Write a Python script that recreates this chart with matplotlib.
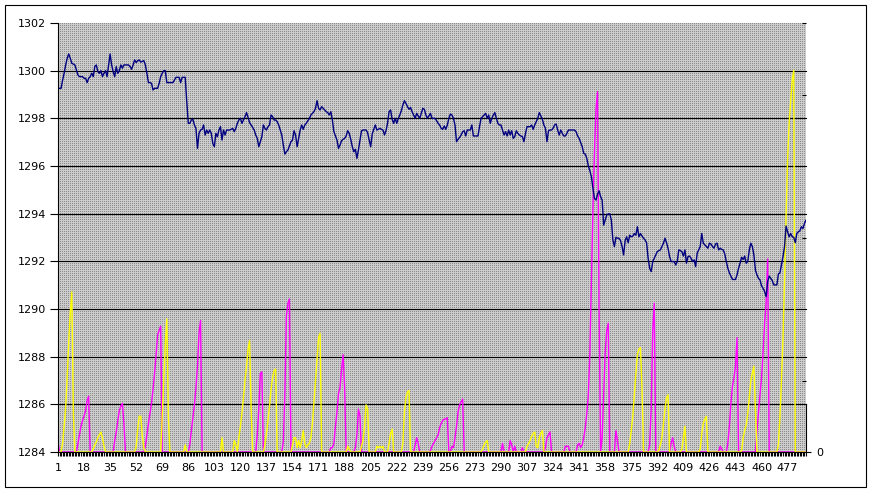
#!/usr/bin/env python3
import numpy as np
import matplotlib
matplotlib.use('Agg')
import matplotlib.pyplot as plt
from matplotlib.ticker import FixedLocator, FixedFormatter, NullFormatter
from matplotlib.patches import Rectangle

N_POINTS = 489
categories = list(range(1, N_POINTS + 1))
x_tick_labels = list(range(1, 478, 17))
left_ticks = list(range(1284, 1303, 2))
grid_levels = list(range(1286, 1301, 2))
right_ticks = [0.5, 1.5, 2.5, 3.0]

# serie principal (eixo esquerdo)
price = [
    1299.26, 1299.26, 1299.26, 1299.60, 1299.89, 1300.24, 1300.52, 1300.70, 1300.52, 1300.31,
    1300.28, 1300.24, 1300.03, 1299.82, 1299.75, 1299.75, 1299.75, 1299.68, 1299.68, 1299.50,
    1299.68, 1299.75, 1299.89, 1299.75, 1300.17, 1300.24, 1299.96, 1299.89, 1300.00, 1299.75,
    1299.89, 1300.00, 1299.75, 1300.24, 1300.70, 1300.24, 1299.96, 1299.75, 1300.17, 1299.89,
    1300.00, 1300.24, 1300.10, 1300.24, 1300.24, 1300.24, 1300.24, 1300.17, 1300.06, 1300.24,
    1300.45, 1300.34, 1300.42, 1300.45, 1300.36, 1300.39, 1300.42, 1300.24, 1299.89, 1299.50,
    1299.50, 1299.47, 1299.19, 1299.26, 1299.26, 1299.26, 1299.47, 1299.75, 1299.89, 1300.00,
    1300.00, 1299.50, 1299.50, 1299.50, 1299.50, 1299.50, 1299.61, 1299.72, 1299.72, 1299.72,
    1299.50, 1299.72, 1299.72, 1299.72, 1298.70, 1297.79, 1297.79, 1297.93, 1297.96, 1297.72,
    1297.58, 1296.74, 1297.37, 1297.51, 1297.54, 1297.72, 1297.30, 1297.51, 1297.37, 1297.51,
    1297.37, 1296.95, 1296.81, 1297.37, 1297.23, 1297.51, 1297.65, 1297.09, 1297.51, 1297.30,
    1297.51, 1297.51, 1297.51, 1297.54, 1297.58, 1297.44, 1297.58, 1297.79, 1297.93, 1298.00,
    1297.79, 1297.93, 1298.07, 1298.24, 1298.04, 1297.82, 1297.72, 1297.62, 1297.51, 1297.30,
    1297.16, 1296.81, 1297.02, 1297.23, 1297.72, 1297.58, 1297.51, 1297.65, 1297.72, 1298.14,
    1298.07, 1297.93, 1297.93, 1297.86, 1297.72, 1297.51, 1297.30, 1296.88, 1296.50, 1296.60,
    1296.67, 1296.84, 1297.02, 1297.09, 1297.48, 1297.30, 1296.81, 1297.16, 1297.51, 1297.72,
    1297.54, 1297.72, 1297.79, 1297.90, 1297.99, 1298.14, 1298.21, 1298.28, 1298.42, 1298.74,
    1298.42, 1298.35, 1298.49, 1298.42, 1298.35, 1298.28, 1298.24, 1298.14, 1298.28, 1297.93,
    1297.44, 1297.26, 1297.09, 1296.74, 1296.88, 1297.06, 1297.12, 1297.16, 1297.26, 1297.48,
    1297.37, 1297.12, 1296.81, 1296.60, 1296.70, 1296.32, 1296.67, 1297.09, 1297.48, 1297.51,
    1297.51, 1297.51, 1297.40, 1297.09, 1296.81, 1297.34, 1297.54, 1297.72, 1297.51, 1297.54,
    1297.58, 1297.54, 1297.51, 1297.30, 1297.48, 1297.79, 1298.28, 1298.35, 1297.96, 1297.79,
    1298.00, 1297.79, 1297.99, 1298.14, 1298.32, 1298.56, 1298.74, 1298.63, 1298.49, 1298.38,
    1298.46, 1298.28, 1298.14, 1298.00, 1298.21, 1298.10, 1298.00, 1298.21, 1298.42, 1298.38,
    1298.14, 1298.00, 1298.10, 1298.21, 1298.00, 1298.00, 1298.00, 1297.90, 1297.79, 1297.72,
    1297.58, 1297.54, 1297.68, 1297.54, 1297.72, 1298.00, 1298.18, 1298.14, 1298.00, 1297.72,
    1297.02, 1297.12, 1297.20, 1297.30, 1297.44, 1297.48, 1297.26, 1297.51, 1297.51, 1297.51,
    1297.72, 1297.26, 1297.26, 1297.26, 1297.26, 1297.65, 1298.00, 1298.07, 1298.14, 1298.21,
    1298.00, 1298.14, 1297.79, 1298.00, 1298.14, 1298.24, 1298.00, 1297.79, 1297.72, 1297.72,
    1297.51, 1297.30, 1297.44, 1297.26, 1297.51, 1297.30, 1297.48, 1297.16, 1297.23, 1297.48,
    1297.37, 1297.30, 1297.26, 1297.23, 1297.02, 1297.37, 1297.65, 1297.65, 1297.65, 1297.72,
    1297.54, 1297.72, 1297.86, 1298.00, 1298.24, 1298.10, 1297.96, 1297.72, 1297.58, 1297.02,
    1297.48, 1297.51, 1297.51, 1297.58, 1297.72, 1297.76, 1297.51, 1297.30, 1297.51, 1297.37,
    1297.26, 1297.26, 1297.37, 1297.51, 1297.51, 1297.51, 1297.51, 1297.51, 1297.44, 1297.26,
    1297.16, 1296.98, 1296.81, 1296.53, 1296.50, 1296.32, 1296.00, 1295.80, 1295.55, 1295.06,
    1294.64, 1294.57, 1294.82, 1294.96, 1294.71, 1294.57, 1293.52, 1293.73, 1293.94, 1293.99,
    1293.99, 1293.73, 1292.90, 1292.62, 1293.01, 1292.97, 1292.97, 1292.87, 1292.62, 1292.27,
    1292.87, 1293.03, 1292.78, 1293.10, 1293.03, 1293.06, 1293.17, 1293.10, 1293.45, 1293.03,
    1293.17, 1293.06, 1292.97, 1292.90, 1292.78, 1292.13, 1291.71, 1291.57, 1291.99, 1292.13,
    1292.27, 1292.41, 1292.45, 1292.48, 1292.62, 1292.76, 1292.97, 1292.78, 1292.55, 1292.20,
    1291.99, 1291.99, 1291.99, 1291.85, 1291.99, 1292.48, 1292.45, 1292.41, 1292.22, 1292.48,
    1291.92, 1292.20, 1292.22, 1292.13, 1291.99, 1292.06, 1291.78, 1292.34, 1292.48, 1292.62,
    1293.17, 1292.76, 1292.69, 1292.62, 1292.55, 1292.76, 1292.73, 1292.62, 1292.55, 1292.73,
    1292.76, 1292.48, 1292.55, 1292.50, 1292.48, 1292.31, 1291.99, 1291.71, 1291.52, 1291.38,
    1291.24, 1291.24, 1291.24, 1291.43, 1291.71, 1291.92, 1292.17, 1292.08, 1292.22, 1291.92,
    1291.99, 1292.48, 1292.76, 1292.62, 1292.27, 1291.64, 1291.43, 1291.29, 1291.22, 1290.97,
    1290.87, 1290.73, 1290.52, 1291.15, 1291.38, 1291.29, 1291.19, 1291.01, 1291.01, 1291.01,
    1291.47, 1291.52, 1291.85, 1292.20, 1292.62, 1293.48, 1293.24, 1293.03, 1293.17, 1293.03,
    1293.01, 1292.78, 1293.17, 1293.24, 1293.28, 1293.45, 1293.38, 1293.59, 1293.73,
]

# picos (eixo direito): (indice inicial, valores); o resto e zero
magenta_runs = [
    (1, [0.07]),
    (14, [0.06, 0.12, 0.18, 0.22, 0.25, 0.29, 0.36, 0.39]),
    (38, [0.08, 0.14, 0.22, 0.29, 0.32, 0.34, 0.20]),
    (58, [0.04, 0.12, 0.20, 0.27, 0.34, 0.44, 0.55, 0.68, 0.82, 0.85, 0.88]),
    (87, [0.05, 0.15, 0.24, 0.33, 0.45, 0.60, 0.83, 0.92]),
    (131, [0.12, 0.30, 0.55, 0.56]),
    (148, [0.07, 0.40, 0.95, 1.04, 1.07]),
    (179, [0.03, 0.03, 0.06, 0.18, 0.28, 0.41, 0.45, 0.58, 0.68, 0.45]),
    (195, [0.03, 0.12, 0.30, 0.25]),
    (234, [0.05, 0.10, 0.06]),
    (244, [0.01, 0.04, 0.06, 0.08, 0.10, 0.12, 0.17, 0.20, 0.22, 0.23, 0.23, 0.24]),
    (258, [0.04, 0.03, 0.10, 0.18, 0.28, 0.33, 0.35, 0.37]),
    (291, [0.06]),
    (296, [0.08, 0.05]),
    (299, [0.04]),
    (304, [0.03]),
    (319, [0.03, 0.10, 0.12, 0.14]),
    (332, [0.04, 0.04, 0.04]),
    (340, [0.05, 0.06, 0.03, 0.05, 0.10, 0.17, 0.27, 0.40, 0.70, 1.20, 1.70, 2.10, 2.40, 2.52, 1.00]),
    (356, [0.10, 0.40, 0.70, 0.85, 0.90]),
    (365, [0.15, 0.08]),
    (387, [0.05, 0.30, 0.85, 1.04]),
    (401, [0.06, 0.10, 0.04]),
    (433, [0.04, 0.02]),
    (438, [0.06, 0.18, 0.34, 0.46, 0.52, 0.60, 0.80]),
    (457, [0.15, 0.28, 0.40, 0.52, 0.70, 0.90, 1.05, 1.35]),
]

yellow_runs = [
    (4, [0.06, 0.18, 0.31, 0.53, 0.77, 0.97, 1.12, 0.28]),
    (24, [0.02, 0.05, 0.07, 0.10, 0.12, 0.14, 0.10, 0.04]),
    (52, [0.04, 0.16, 0.25, 0.25, 0.11, 0.03]),
    (69, [0.25, 0.50, 0.75, 0.93, 0.25]),
    (84, [0.05]),
    (108, [0.10]),
    (116, [0.08, 0.05]),
    (119, [0.10, 0.18, 0.27, 0.38, 0.50, 0.60, 0.72, 0.78, 0.30]),
    (136, [0.05, 0.13, 0.22, 0.32, 0.44, 0.52, 0.57, 0.58]),
    (154, [0.05, 0.10, 0.10, 0.03, 0.08, 0.03, 0.08, 0.15, 0.06, 0.03, 0.05]),
    (165, [0.06, 0.10, 0.20, 0.35, 0.50, 0.65, 0.80, 0.83]),
    (190, [0.04, 0.02]),
    (199, [0.04, 0.08, 0.18, 0.33, 0.30]),
    (209, [0.04, 0.03, 0.04, 0.03, 0.04]),
    (217, [0.06, 0.13, 0.16]),
    (226, [0.06, 0.28, 0.38, 0.42, 0.43]),
    (278, [0.02, 0.05, 0.07, 0.08]),
    (307, [0.04, 0.06, 0.08, 0.11, 0.13, 0.14, 0.04, 0.03, 0.10, 0.13, 0.15]),
    (374, [0.06, 0.15, 0.25, 0.40, 0.55, 0.68, 0.72, 0.73, 0.45]),
    (393, [0.01, 0.05, 0.10, 0.20, 0.30, 0.38, 0.40]),
    (408, [0.02, 0.10, 0.18]),
    (420, [0.02, 0.13, 0.20, 0.23, 0.25]),
    (447, [0.01, 0.10, 0.15, 0.19, 0.27, 0.38, 0.50, 0.55, 0.60, 0.30]),
    (471, [0.05, 0.25, 0.50, 0.80, 1.20, 1.65, 2.05, 2.30, 2.45, 2.60, 2.67]),
]


def build_series(runs, n):
    """Montar serie completa a partir dos trechos nao nulos"""
    s = np.zeros(n)
    for start, vals in runs:
        s[start - 1:start - 1 + len(vals)] = vals
    return s


def dotted_background(w, h):
    """Padrao pontilhado cinza (estilo Excel), um valor por pixel"""
    img = np.full((h, w, 3), 0.80)
    img[::2, ::2, :] = 0.55
    return img


W, H = 873, 493
PX_L, PX_B, PX_W, PX_H = 58, 41, 748, 429
fig = plt.figure(figsize=(W / 100, H / 100), dpi=100)
fig.patch.set_facecolor('white')

# moldura externa
fig.add_artist(Rectangle((5 / W, 6 / H), 861 / W, 482 / H, transform=fig.transFigure,
                         fill=False, edgecolor='black', linewidth=0.8))

ax = fig.add_axes([PX_L / W, PX_B / H, PX_W / W, PX_H / H])
ax2 = ax.twinx()

# ax2 fica atras (fundo, grade, picos); ax na frente (linha azul)
ax.set_zorder(ax2.get_zorder() + 1)
ax.patch.set_visible(False)
ax2.patch.set_visible(True)
ax2.patch.set_facecolor('#bcbcbc')

ax2.imshow(dotted_background(PX_W, PX_H), extent=(0, 1, 0, 1), transform=ax2.transAxes,
           interpolation='nearest', aspect='auto', zorder=0)

for g in grid_levels:
    ax2.plot([0, 1], [g, g], transform=ax.get_yaxis_transform(),
             color='black', linewidth=0.8, zorder=1, clip_on=False)

magenta = build_series(magenta_runs, N_POINTS)
yellow = build_series(yellow_runs, N_POINTS)
ax2.plot(categories, magenta, color='#ff00ff', linewidth=1.0, zorder=2)
ax2.plot(categories, yellow, color='#ffff00', linewidth=1.0, zorder=3)

ax.plot(categories, price, color='#000080', linewidth=1.0)

ax.set_xlim(1, N_POINTS)
ax.set_ylim(1284, 1302)
ax2.set_xlim(1, N_POINTS)
ax2.set_ylim(0, 3)

# eixo esquerdo
ax.set_yticks(left_ticks)
ax.set_yticklabels([str(v) for v in left_ticks])
ax.tick_params(axis='y', direction='out', length=5.8, width=0.8, pad=2.8,
               labelsize=8, colors='black')

# eixo x (categorias)
ax.xaxis.set_major_locator(FixedLocator(x_tick_labels))
ax.xaxis.set_major_formatter(FixedFormatter([str(v) for v in x_tick_labels]))
ax.xaxis.set_minor_locator(FixedLocator(categories))
ax.tick_params(axis='x', which='both', direction='out', length=3, width=0.8,
               pad=5, labelsize=8, colors='black')

for side in ['top', 'right']:
    ax.spines[side].set_visible(False)
for side in ['left', 'bottom']:
    ax.spines[side].set_linewidth(0.8)

# eixo direito
for side in ['top', 'left', 'bottom']:
    ax2.spines[side].set_visible(False)
ax2.spines['right'].set_linewidth(0.8)
ax2.spines['right'].set_bounds(0, 1 / 3)
ax2.yaxis.set_major_locator(FixedLocator(right_ticks))
ax2.yaxis.set_major_formatter(NullFormatter())
ax2.yaxis.set_minor_locator(FixedLocator([0]))
ax2.yaxis.set_minor_formatter(FixedFormatter(['0']))
ax2.tick_params(axis='y', which='major', direction='in', length=2.9, width=0.8)
ax2.tick_params(axis='y', which='minor', direction='out', length=3.6, width=0.8,
                pad=4, labelsize=8)

fig.savefig('out.png', dpi=100)
